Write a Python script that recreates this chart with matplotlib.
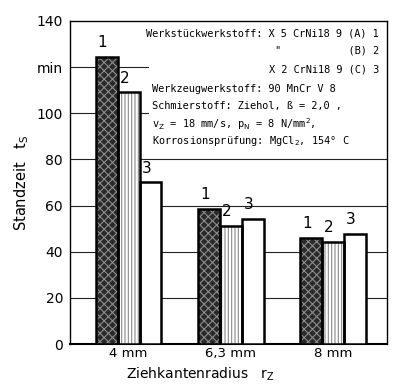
import numpy as np
import matplotlib
matplotlib.use('Agg')
import matplotlib.pyplot as plt
from matplotlib.patches import Rectangle

# data
radius_labels = ['4 mm', '6,3 mm', '8 mm']
werkstoff_1 = [124.3, 58.7, 46.0]
werkstoff_2 = [109.0, 51.0, 44.3]
werkstoff_3 = [70.0, 54.3, 47.8]
bar_names = ['1', '2', '3']
y_ticks = [0, 20, 40, 60, 80, 100, 120, 140]
y_ticklabels = ['0', '20', '40', '60', '80', '100', 'min', '140']

plt.rcParams['hatch.linewidth'] = 0.8

fig = plt.figure(figsize=(4.0, 3.87), dpi=100)
ax = fig.add_axes([0.175, 0.111, 0.7925, 0.835])

x = np.arange(len(radius_labels))
w = 0.215
offsets = [-w, 0, w]
series = [werkstoff_1, werkstoff_2, werkstoff_3]
faces = ['#2a2a2a', 'white', 'white']
hatches = ['xxxx', '|||||', None]
hatch_cols = ['#8c8c8c', '#8a8a8a', 'white']

for vals, off, fc, ht, hc, name in zip(series, offsets, faces, hatches, hatch_cols, bar_names):
    ax.bar(x + off, vals, w, color=fc, edgecolor='none', zorder=3)
    if ht:
        ax.bar(x + off, vals, w, color='none', edgecolor=hc, hatch=ht, linewidth=0, zorder=3)
    ax.bar(x + off, vals, w, color='none', edgecolor='black', linewidth=1.8, zorder=4)
    for xi, v in zip(x + off, vals):
        ax.text(xi - 0.04, v + 3, name, ha='center', va='bottom', fontsize=11)

# gridlines
for yt in y_ticks[1:-1]:
    ax.axhline(yt, color='#222222', lw=0.8, zorder=1)

# white area behind the annotation block
ax.add_patch(Rectangle((0.25, 0.59), 0.75, 0.405, transform=ax.transAxes,
                       facecolor='white', edgecolor='none', zorder=2))

mono = dict(family='DejaVu Sans Mono', fontsize=7.4, zorder=5, transform=ax.transAxes)
ax.text(0.975, 0.962, 'Werkstückwerkstoff: X 5 CrNi18 9 (A) 1', ha='right', va='center', **mono)
ax.text(0.975, 0.908, '"           (B) 2', ha='right', va='center', **mono)
ax.text(0.975, 0.849, 'X 2 CrNi18 9 (C) 3', ha='right', va='center', **mono)
ax.text(0.26, 0.790, 'Werkzeugwerkstoff: 90 MnCr V 8', ha='left', va='center', **mono)
ax.text(0.26, 0.737, 'Schmierstoff: Ziehol, ß = 2,0 ,', ha='left', va='center', **mono)
ax.text(0.26, 0.681, r'v$_\mathrm{Z}$ = 18 mm/s, p$_\mathrm{N}$ = 8 N/mm$^2$,', ha='left', va='center', **mono)
ax.text(0.26, 0.628, r'Korrosionsprüfung: MgCl$_2$, 154° C', ha='left', va='center', **mono)

ax.set_xlim(-0.572, 2.527)
ax.set_ylim(0, 140)
ax.set_yticks(y_ticks)
ax.set_yticklabels(y_ticklabels, fontsize=10)
ax.set_xticks(x)
ax.set_xticklabels(radius_labels, fontsize=9.5)
ax.tick_params(axis='both', length=0, pad=5)
ax.tick_params(axis='x', pad=2)
for s in ax.spines.values():
    s.set_linewidth(1.0)
ax.spines['bottom'].set_linewidth(1.5)

ax.set_ylabel(r'Standzeit   t$_\mathrm{S}$', fontsize=10.5, labelpad=4)
fig.text(0.5, 0.032, r'Ziehkantenradius   r$_\mathrm{Z}$', fontsize=10, ha='center', va='center')

fig.savefig('out.png', dpi=100)
